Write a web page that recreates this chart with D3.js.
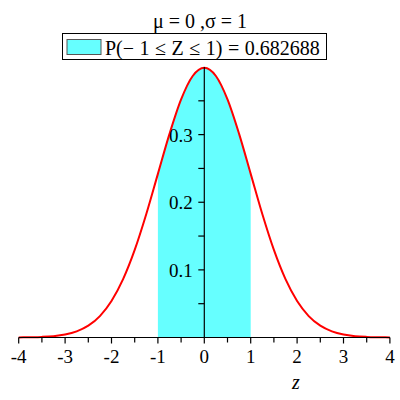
<!DOCTYPE html>
<html><head><meta charset="utf-8">
<script src="https://cdn.jsdelivr.net/npm/d3@7"></script>
<style>body{margin:0;background:#fff}svg{display:block}text{font-family:"Liberation Serif","Times New Roman",serif}</style>
</head><body>
<svg id="c" width="400" height="400"></svg>
<script>
// sample points
const zValues = [-4,-3.75,-3.5,-3.25,-3,-2.75,-2.5,-2.25,-2,-1.75,-1.5,-1.25,-1,-0.75,-0.5,-0.25,0,0.25,0.5,0.75,1,1.25,1.5,1.75,2,2.25,2.5,2.75,3,3.25,3.5,3.75,4];
const density = [0.0001,0.0004,0.0009,0.002,0.0044,0.0091,0.0175,0.0317,0.054,0.0863,0.1295,0.1826,0.242,0.3011,0.3521,0.3867,0.3989,0.3867,0.3521,0.3011,0.242,0.1826,0.1295,0.0863,0.054,0.0317,0.0175,0.0091,0.0044,0.002,0.0009,0.0004,0.0001];
const shadeRange = [-1, 1];
const xTickLabels = [-4,-3,-2,-1,0,1,2,3,4];
const yTickLabels = [0.1,0.2,0.3];
const titleText = "μ = 0 ,σ = 1";
const legendText = "P(\u2212 1 ≤ Z ≤ 1) = 0.682688";
const xLabel = "z";

const svg = d3.select("#c");
const x = d3.scaleLinear().domain([-4,4]).range([18.7,389.9]);
const y = d3.scaleLinear().domain([0,0.4]).range([337.5,67]);
const pts = zValues.map((z,i)=>({z, d: density[i]}));
const shadePts = pts.filter(p => p.z >= shadeRange[0] && p.z <= shadeRange[1]);

svg.append("path").datum(shadePts)
  .attr("fill","#66ffff")
  .attr("d", d3.area().x(p=>x(p.z)).y0(y(0)).y1(p=>y(p.d)).curve(d3.curveMonotoneX));

svg.append("path").datum(pts)
  .attr("fill","none").attr("stroke","#ff0000").attr("stroke-width",2)
  .attr("d", d3.line().x(p=>x(p.z)).y(p=>y(p.d)).curve(d3.curveMonotoneX));

// x axis
const xAxis = svg.append("g").attr("transform",`translate(0,${y(0)})`);
xAxis.append("line").attr("x1",x(-4)).attr("x2",x(4)).attr("stroke","#000").attr("stroke-width",1.2);
const minorX = d3.range(-4,4.01,0.5);
xAxis.selectAll("line.t").data(minorX).join("line").attr("class","t")
  .attr("x1",d=>x(d)).attr("x2",d=>x(d)).attr("y1",0)
  .attr("y2",d=>Number.isInteger(d)?6:5).attr("stroke","#000").attr("stroke-width",1.2);
xAxis.selectAll("text").data(xTickLabels).join("text")
  .attr("x",d=>x(d)).attr("y",25.5).attr("text-anchor","middle")
  .style("font-size","19px")
  .text(d=>d<0 ? "-"+Math.abs(d) : String(d));

// y axis
const yAxis = svg.append("g").attr("transform",`translate(${x(0)},0)`);
yAxis.append("line").attr("y1",y(0)).attr("y2",y(0.4)).attr("stroke","#000").attr("stroke-width",1.2);
const minorY = d3.range(0.05,0.36,0.05);
yAxis.selectAll("line.t").data(minorY).join("line").attr("class","t")
  .attr("y1",d=>y(d)).attr("y2",d=>y(d)).attr("x1",-6).attr("x2",0)
  .attr("stroke","#000").attr("stroke-width",1.2);
yAxis.selectAll("text").data(yTickLabels).join("text")
  .attr("x",-11.5).attr("y",d=>y(d)+7).attr("text-anchor","end")
  .style("font-size","19px")
  .text(d=>d.toFixed(1));

// x label
svg.append("text").attr("x",296).attr("y",389).attr("text-anchor","middle")
  .style("font-size","20px").style("font-style","italic").text(xLabel);

// title
svg.append("text").attr("x",200).attr("y",28).attr("text-anchor","middle")
  .style("font-size","20px").text(titleText);

// legend
svg.append("rect").attr("x",62.5).attr("y",33.5).attr("width",264).attr("height",26)
  .attr("fill","#fff").attr("stroke","#000").attr("stroke-width",1);
svg.append("rect").attr("x",67).attr("y",39.5).attr("width",34).attr("height",15)
  .attr("fill","#66ffff").attr("stroke","#555").attr("stroke-width",1);
svg.append("text").attr("x",105).attr("y",54.5)
  .style("font-size","20px").style("word-spacing","0.5px")
  .text(legendText);
</script>
</body></html>
